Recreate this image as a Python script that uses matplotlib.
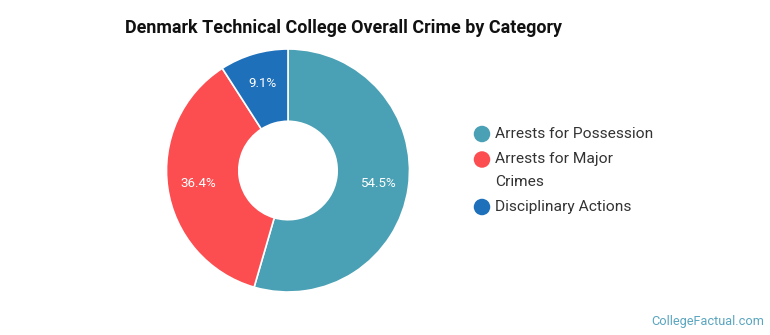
import matplotlib
matplotlib.use("Agg")
import matplotlib.pyplot as plt
from matplotlib.patches import Ellipse

categories = ["Arrests for Possession", "Arrests for Major\nCrimes", "Disciplinary Actions"]
shares = [54.5, 36.4, 9.1]
colors = ["#4aa0b4", "#fc4d50", "#1f70ba"]
title = "Denmark Technical College Overall Crime by Category"
watermark = "CollegeFactual.com"

W, H = 770, 335
fig = plt.figure(figsize=(W / 100, H / 100), dpi=100)
fig.patch.set_facecolor("white")

# donut axes (pixel geometry)
cx, cy, r = 288, 170.5, 121.5
ax = fig.add_axes([(cx - r) / W, (H - cy - r) / H, 2 * r / W, 2 * r / H])
wedges, texts, autotexts = ax.pie(
    shares, colors=colors, startangle=90, counterclock=False, radius=1,
    autopct=lambda p: f"{p:.1f}%", pctdistance=0.745,
    wedgeprops=dict(width=0.595, edgecolor="white", linewidth=1.2),
    textprops=dict(color="white", fontsize=9.6, family="Roboto"))
ax.set_xlim(-1, 1)
ax.set_ylim(-1, 1)
ax.set_aspect("equal")
ax.axis("off")

fig.text(125 / W, 1 - 28 / H, title, fontsize=12.9, fontweight="bold",
         family="Roboto", color="#111111", va="center", ha="left")

# legend drawn manually
d = 16.5
y = 134
for lab, col in zip(categories, colors):
    fig.add_artist(Ellipse((482 / W, 1 - y / H), d / W, d / H, transform=fig.transFigure,
                           facecolor=col, edgecolor="none"))
    lines = lab.split("\n")
    for j, ln in enumerate(lines):
        fig.text(495 / W, 1 - (y + j * 22) / H, ln, fontsize=11.15, family="Roboto",
                 color="#333333", va="center", ha="left")
    y += (len(lines) - 1) * 22 + 25.5

fig.text(764 / W, 1 - 321 / H, watermark, fontsize=9.2, family="Roboto",
         color="#5aa5bf", va="center", ha="right")

fig.savefig("out.png", dpi=100)
